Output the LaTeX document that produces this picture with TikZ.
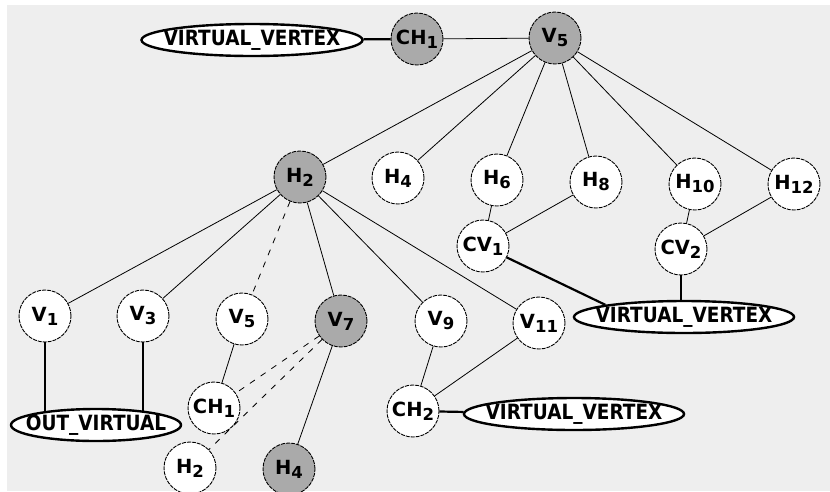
\documentclass[tikz,border=0pt]{standalone}
\usepackage{fontspec}
\setmainfont{DejaVu Sans}
\newfontfamily\tagfont[FakeStretch=0.88]{DejaVu Sans}
\usetikzlibrary{shapes.geometric,backgrounds}
\definecolor{paper}{RGB}{238,238,238}
\definecolor{nodegray}{RGB}{170,170,170}
% lowered index digit for vertex names
\newcommand\idx[1]{\raisebox{-4pt}{\fontsize{16.5}{16.5}\selectfont #1}}
\begin{document}
\begin{tikzpicture}[x=1pt,y=-1pt,
  vtx/.style={circle,draw,line width=0.9pt,dash pattern=on 4pt off 1pt,
    fill=white,minimum size=52pt,inner sep=0pt,
    font=\fontsize{19.5}{19.5}\selectfont\bfseries},
  hot/.style={vtx,fill=nodegray},
  virt/.style={ellipse,draw,line width=2.4pt,fill=white,inner sep=0pt,
    minimum height=32pt,font=\tagfont\fontsize{21}{21}\selectfont\bfseries},
  link/.style={line width=0.8pt},
  bond/.style={line width=2.2pt},
  hint/.style={line width=0.8pt,dash pattern=on 6pt off 7pt}]

\useasboundingbox (0,0) rectangle (830,491);

% top level
\node[virt,minimum width=221pt] (vvt) at (252,40) {\makebox[0pt]{VIRTUAL\_VERTEX}};
\node[hot] (ch1t) at (417,39) {CH\idx{1}};
\node[hot] (v5t) at (555,38) {V\idx{5}};

% second level
\node[hot] (h2t) at (300,177) {H\idx{2}};
\node[vtx] (h4t) at (398,178) {H\idx{4}};
\node[vtx] (h6t) at (497,180) {H\idx{6}};
\node[vtx] (h8t) at (596,182) {H\idx{8}};
\node[vtx] (h10) at (695,184) {H\idx{10}};
\node[vtx] (h12) at (794,184) {H\idx{12}};
\node[vtx] (cv1) at (483,246) {CV\idx{1}};
\node[vtx] (cv2) at (681,249) {CV\idx{2}};
\node[virt,minimum width=220pt] (vvr) at (684,317) {\makebox[0pt]{VIRTUAL\_VERTEX}};

% third level
\node[vtx] (v1) at (45,316) {V\idx{1}};
\node[vtx] (v3) at (143,316) {V\idx{3}};
\node[vtx] (v5b) at (242,319) {V\idx{5}};
\node[hot] (v7) at (341,321) {V\idx{7}};
\node[vtx] (v9) at (441,321) {V\idx{9}};
\node[vtx] (v11) at (539,323) {V\idx{11}};
\node[virt,minimum width=170pt] (out) at (96,425) {\makebox[0pt]{OUT\_VIRTUAL}};
\node[vtx] (ch1b) at (214,408) {CH\idx{1}};
\node[vtx] (ch2) at (413,411) {CH\idx{2}};
\node[virt,minimum width=220pt] (vvb) at (574,414) {\makebox[0pt]{VIRTUAL\_VERTEX}};
\node[vtx] (h2b) at (190,468) {H\idx{2}};
\node[hot] (h4b) at (289,469) {H\idx{4}};

\begin{pgfonlayer}{background}
  \fill[white] (0,0) rectangle (830,491);
  \fill[paper] (7,5) rectangle (830,491);

  \draw[bond] (vvt) -- (ch1t);
  \draw[link] (ch1t) -- (v5t);
  \foreach \n in {h2t,h4t,h6t,h8t,h10,h12} \draw[link] (v5t) -- (\n);

  \draw[link] (h6t) -- (cv1);
  \draw[link] (h8t) -- (cv1);
  \draw[link] (h10) -- (cv2);
  \draw[link] (h12) -- (cv2);
  \draw[bond] (cv1) -- (vvr.north west);
  \draw[bond] (cv2) -- (cv2 |- vvr.center);

  \foreach \n in {v1,v3,v7,v9,v11} \draw[link] (h2t) -- (\n);
  \draw[hint] (h2t) -- (v5b);

  \draw[bond] (v1) -- (v1 |- out.center);
  \draw[bond] (v3) -- (v3 |- out.center);

  \draw[link] (v5b) -- (ch1b);
  \draw[hint] (v7) -- (ch1b);
  \draw[hint] (v7) -- (h2b);
  \draw[link] (v7) -- (h4b);

  \draw[link] (v9) -- (ch2);
  \draw[link] (v11) -- (ch2);
  \draw[bond] (ch2) -- (vvb);
\end{pgfonlayer}
\end{tikzpicture}
\end{document}
